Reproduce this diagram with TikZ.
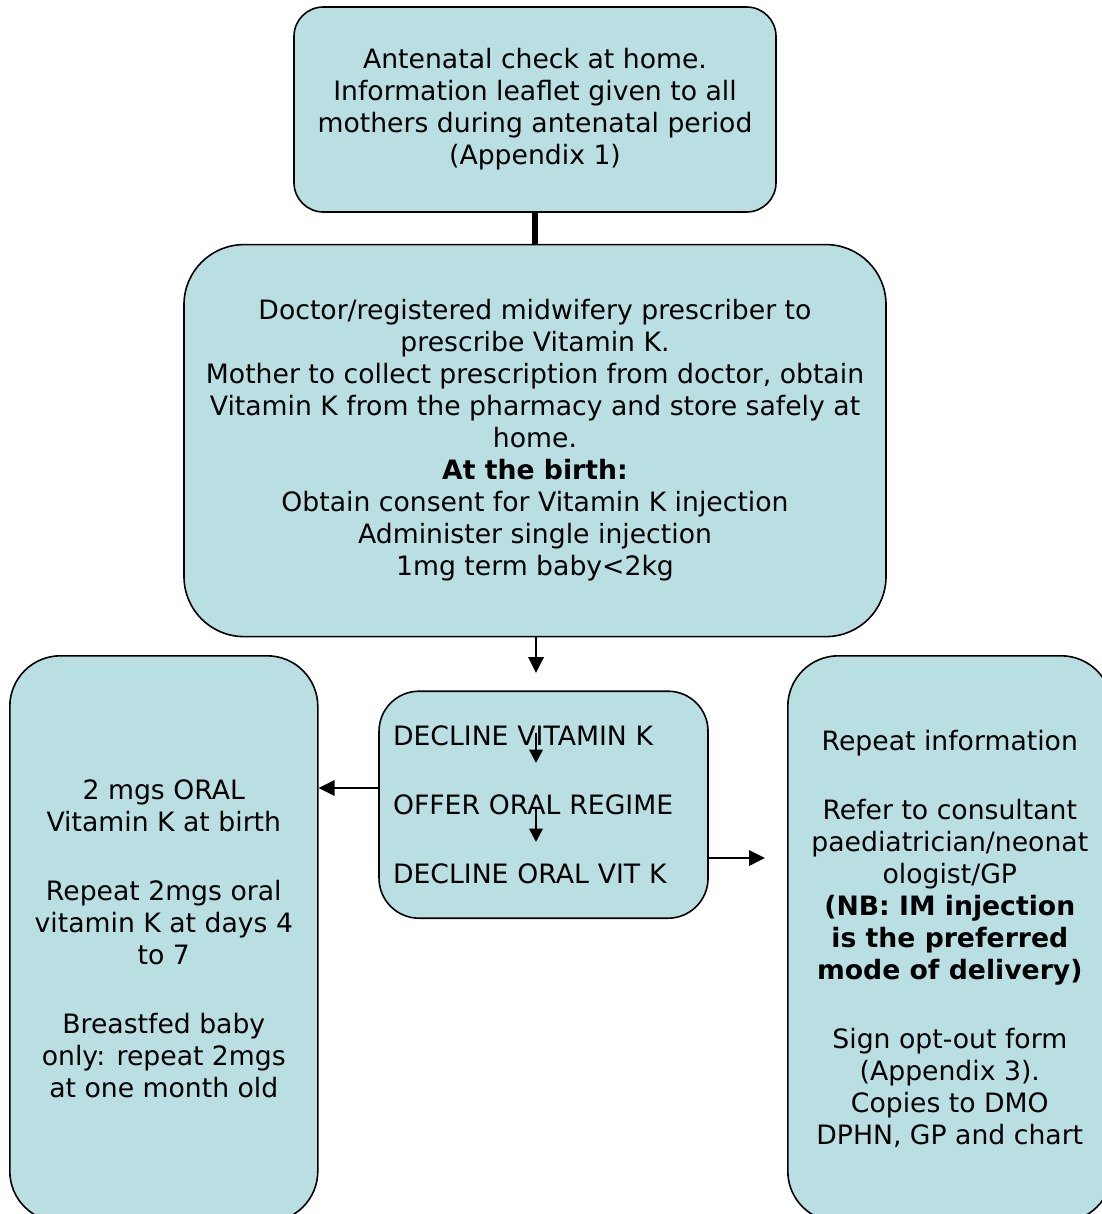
\documentclass[tikz,border=0pt]{standalone}
\usepackage{fontspec}
\setmainfont{DejaVu Sans}
\usepackage{xcolor}
\usetikzlibrary{arrows.meta,positioning}
\definecolor{boxfill}{RGB}{185,223,227}

\begin{document}
\begin{tikzpicture}[
  x=0.75pt, y=-0.75pt,
  font=\fontsize{20}{24}\selectfont,
  flownode/.style={rectangle, draw=black, fill=boxfill, line width=1.2pt, align=center},
  sidenode/.style={flownode, rounded corners=38pt, minimum height=424.5pt, anchor=north west},
  arr/.style={-{Triangle[length=12pt,width=11.5pt]}, line width=1.8pt},
  smallarr/.style={-{Triangle[length=10pt,width=10pt]}, line width=1.8pt},
]
\useasboundingbox (0,0) rectangle (1102,1214);

% Nodes
\node[flownode, rounded corners=22pt, minimum width=361.5pt, minimum height=153.75pt] (antenatal) at (535,109.5)
  {Antenatal check at home.\\Information leaflet given to all\\mothers during antenatal period\\(Appendix 1)};
\node[flownode, rounded corners=45pt, minimum width=526.5pt, minimum height=294pt, below=23.25pt of antenatal] (prescribe)
  {Doctor/registered midwifery prescriber to\\prescribe Vitamin K.\\Mother to collect prescription from doctor, obtain\\Vitamin K from the pharmacy and store safely at\\home.\\\textbf{At the birth:}\\Obtain consent for Vitamin K injection\\Administer single injection\\1mg term baby<2kg};
\node[flownode, rounded corners=30pt, align=left, inner xsep=10.5pt, text width=225.75pt, minimum height=170.25pt,
  below=39.75pt of prescribe, xshift=6.4pt] (decline)
  {DECLINE VITAMIN K\\[28pt]OFFER ORAL REGIME\\[28pt]DECLINE ORAL VIT K};

% Side boxes
\node[sidenode, minimum width=231pt] (oral) at (9,655)
  {2 mgs ORAL\\Vitamin K at birth\\[28pt]Repeat 2mgs oral\\vitamin K at days 4\\to 7\\[28pt]Breastfed baby\\only: repeat 2mgs\\at one month old};
\node[sidenode, minimum width=243pt] (optout) at (787,655)
  {Repeat information\\[28pt]Refer to consultant\\paediatrician/neonat\\ologist/GP\\\textbf{(NB: IM injection}\\\textbf{is the preferred}\\\textbf{mode of delivery)}\\[28pt]Sign opt-out form\\(Appendix 3).\\Copies to DMO\\DPHN, GP and chart};

% Arrow ends
\coordinate (downtip) at (536,673);
\coordinate (start1) at (536,733);
\coordinate (tip1) at (536,763);
\coordinate (start2) at (536,807);
\coordinate (tip2) at (536,842);
\coordinate (leftrow) at (340,788);
\coordinate (righttip) at (765,858);

% Lines
\draw[line width=4pt] (antenatal.south) -- (prescribe.north);
\draw[arr] (prescribe.south -| downtip) -- (downtip);
\draw[smallarr] (start1) -- (tip1);
\draw[smallarr] (start2) -- (tip2);
\draw[arr] (decline.west |- leftrow) -- (oral.east |- leftrow);
\draw[arr] (decline.east |- righttip) -- (righttip);

\end{tikzpicture}
\end{document}
